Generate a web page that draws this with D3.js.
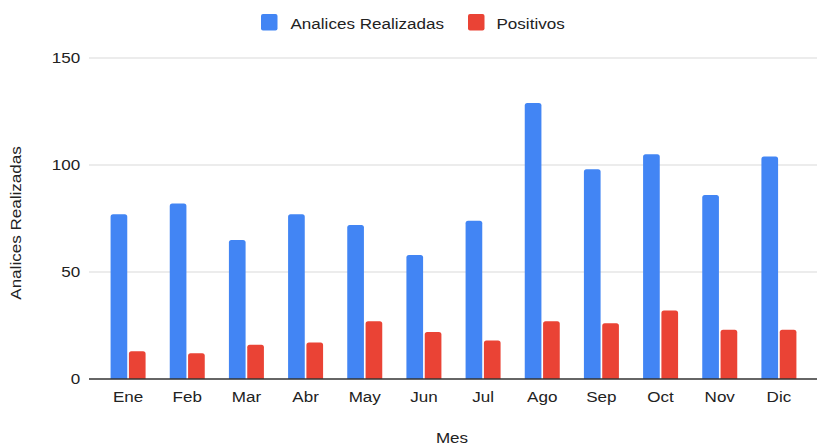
<!DOCTYPE html>
<html lang="es">
<head>
  <meta charset="UTF-8" />
  <title>Analices Realizadas y Positivos por Mes</title>
  <style>
    body { margin: 0; background: #fff; font-family: Arial, 'Liberation Sans', sans-serif; }
    .tick text { font-size: 15.5px; fill: #222; }
    .grid line { stroke: #d9d9d9; }
  </style>
</head>
<body>
  <svg id="chart"></svg>
  <script src="https://d3js.org/d3.v7.min.js"></script>
  <script>
    // datos
    const meses = ["Ene", "Feb", "Mar", "Abr", "May", "Jun", "Jul", "Ago", "Sep", "Oct", "Nov", "Dic"];
    const analices = [77, 82, 65, 77, 72, 58, 74, 129, 98, 105, 86, 104];
    const positivos = [13, 12, 16, 17, 27, 22, 18, 27, 26, 32, 23, 23];
    const series = ["Analices Realizadas", "Positivos"];
    const colores = ["#4285f4", "#ea4335"];
    const yTicks = [0, 50, 100, 150];

    const width = 817, height = 445;
    const stretch = "scale(1.1,1)"; // el texto del original es algo mas ancho
    const svg = d3.select("#chart").attr("width", width).attr("height", height);

    const x = d3.scaleBand().domain(meses).range([98.5, 808.5]);
    const x1 = d3.scaleBand().domain(series).range([-17.5, 17.5]).paddingInner(0.09);
    const y = d3.scaleLinear().domain([0, 150]).range([379, 58]);

    // gridlines
    svg.append("g").attr("class", "grid")
      .selectAll("line").data(yTicks.filter(d => d > 0)).join("line")
      .attr("x1", 89).attr("x2", 817)
      .attr("y1", d => y(d)).attr("y2", d => y(d));

    // eje y
    const yAxis = svg.append("g")
      .attr("transform", "translate(89,0)")
      .call(d3.axisLeft(y).tickValues(yTicks).tickSize(0).tickPadding(8));
    yAxis.select(".domain").remove();
    yAxis.selectAll("text").attr("fill", "#222").attr("transform", stretch);

    // barras
    const filas = meses.map((m, i) => ({ mes: m, vals: [analices[i], positivos[i]] }));
    const barPath = (x0, w, yTop, yBot, r) => {
      r = Math.min(r, yBot - yTop);
      return `M${x0},${yBot}V${yTop + r}Q${x0},${yTop} ${x0 + r},${yTop}H${x0 + w - r}Q${x0 + w},${yTop} ${x0 + w},${yTop + r}V${yBot}Z`;
    };
    svg.append("g").selectAll("g").data(filas).join("g")
      .attr("transform", d => `translate(${x(d.mes) + x.bandwidth() / 2},0)`)
      .selectAll("path").data(d => d.vals.map((v, j) => ({ s: series[j], v, j })))
      .join("path")
      .attr("fill", d => colores[d.j])
      .attr("d", d => barPath(x1(d.s), x1.bandwidth(), y(d.v), y(0), 2.5));

    // eje x
    const xAxis = svg.append("g")
      .attr("transform", "translate(0,379)")
      .call(d3.axisBottom(x).tickSize(0).tickPadding(12));
    xAxis.select(".domain").remove();
    xAxis.selectAll("text").attr("fill", "#222").attr("transform", stretch);
    svg.append("line")
      .attr("x1", 89).attr("x2", 817).attr("y1", y(0)).attr("y2", y(0))
      .attr("stroke", "#333").attr("stroke-width", 1.5);

    // titulos de ejes
    svg.append("text")
      .attr("transform", `translate(452,443) ${stretch}`)
      .attr("text-anchor", "middle")
      .attr("font-size", 15.5).attr("fill", "#222").text("Mes");
    svg.append("text")
      .attr("transform", `translate(21,223) rotate(-90) ${stretch}`)
      .attr("text-anchor", "middle")
      .attr("font-size", 15.5).attr("fill", "#222").text("Analices Realizadas");

    // leyenda
    const leg = [{ x: 261, tx: 290.5 }, { x: 468, tx: 496.5 }];
    const legG = svg.append("g").selectAll("g").data(series).join("g");
    legG.append("rect")
      .attr("x", (d, i) => leg[i].x).attr("y", 14)
      .attr("width", 16.5).attr("height", 16.5).attr("rx", 2)
      .attr("fill", (d, i) => colores[i]);
    legG.append("text")
      .attr("transform", (d, i) => `translate(${leg[i].tx},29) ${stretch}`)
      .attr("font-size", 15.5).attr("fill", "#222")
      .text(d => d);
  </script>
</body>
</html>
